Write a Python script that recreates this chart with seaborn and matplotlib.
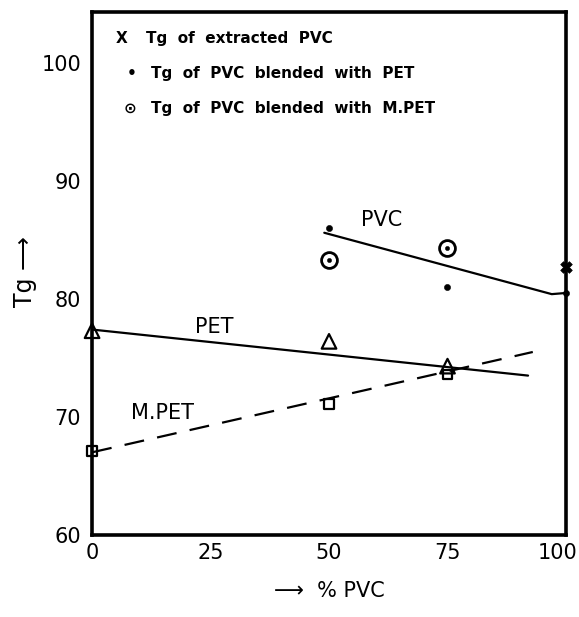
import matplotlib
matplotlib.use("Agg")
import matplotlib.pyplot as plt
import matplotlib.transforms as mtransforms
import seaborn as sns

# ---- data ----
pvc_extracted_x = [100]
pvc_extracted_y = [82.7]
pvc_pet_x = [50, 75, 100]
pvc_pet_y = [86.0, 81.0, 80.5]
pvc_mpet_x = [50, 75]
pvc_mpet_y = [83.3, 84.3]
pet_x = [0, 50, 75]
pet_y = [77.3, 76.4, 74.3]
mpet_x = [0, 50, 75]
mpet_y = [67.1, 71.1, 73.6]

pvc_line_x = [49, 97, 100]
pvc_line_y = [85.6, 80.4, 80.5]
pet_line_x = [0, 92]
pet_line_y = [77.4, 73.5]
mpet_line_x = [0, 93]
mpet_line_y = [67.0, 75.5]

x_ticks = [0, 25, 50, 75, 100]
y_ticks = [60, 70, 80, 90, 100]

sns.set_style("white")
plt.rcParams['font.family'] = ['DejaVu Sans']
plt.rcParams['text.color'] = 'black'

fig = plt.figure(figsize=(5.79, 6.17), dpi=100)
ax = fig.add_axes([0.159, 0.133, 0.8185, 0.8475])

lw = 1.6
sns.lineplot(x=pvc_line_x, y=pvc_line_y, ax=ax, color='black', lw=lw, sort=False)
sns.lineplot(x=pet_line_x, y=pet_line_y, ax=ax, color='black', lw=lw, sort=False)
sns.lineplot(x=mpet_line_x, y=mpet_line_y, ax=ax, color='black', lw=lw, sort=False)
ax.lines[-1].set_dashes([9, 6])

kw = dict(ax=ax, color='black', legend=False, clip_on=False, zorder=5)
sns.scatterplot(x=pvc_extracted_x, y=pvc_extracted_y, marker='X', s=70,
                edgecolor='black', linewidth=0.5, **kw)
sns.scatterplot(x=pvc_pet_x, y=pvc_pet_y, marker='o', s=20, edgecolor='black', **kw)
sns.scatterplot(x=pvc_mpet_x, y=pvc_mpet_y, marker='o', s=130,
                facecolor='white', edgecolor='black', linewidth=2, **kw)
sns.scatterplot(x=pvc_mpet_x, y=pvc_mpet_y, marker='o', s=10, edgecolor='black', **kw)
sns.scatterplot(x=pet_x, y=pet_y, marker='^', s=110,
                facecolor='none', edgecolor='black', linewidth=1.6, **kw)
sns.scatterplot(x=mpet_x, y=mpet_y, marker='s', s=45,
                facecolor='none', edgecolor='black', linewidth=1.6, **kw)

ax.set_xlim(0, 100)
ax.set_ylim(60, 104.3)
ax.set_xticks(x_ticks)
ax.set_yticks(y_ticks)
ax.set_xticklabels([str(v) for v in x_ticks], fontsize=15, color='black')
ax.set_yticklabels([str(v) for v in y_ticks], fontsize=15, color='black')
ax.tick_params(axis='both', direction='in', length=6, width=1.5, colors='black')
ax.tick_params(axis='x', pad=6)
ax.tick_params(axis='y', pad=8)
lab = ax.get_xticklabels()[-1]
lab.set_transform(lab.get_transform() + mtransforms.ScaledTranslation(-8 / 100, 0, fig.dpi_scale_trans))
for s in ax.spines.values():
    s.set_linewidth(2.6)
    s.set_color('black')

ax.set_xlabel('⟶  % PVC', fontsize=15, labelpad=13, color='black')
fig.text(25 / 579, 1 - 272 / 617, 'Tg ⟶', fontsize=17, rotation=90,
         ha='center', va='center', color='black')

ax.text(61, 86.7, 'PVC', fontsize=15, ha='center', va='center')
ax.text(25.7, 77.6, 'PET', fontsize=15, ha='center', va='center')
ax.text(14.8, 70.3, 'M.PET', fontsize=15, ha='center', va='center')

lt = dict(transform=ax.transAxes, fontsize=11, fontweight='bold', va='center')
ax.text(0.050, 0.950, 'X', **lt)
ax.text(0.114, 0.950, 'Tg  of  extracted  PVC', **lt)
ax.text(0.074, 0.883, '•', **lt)
ax.text(0.125, 0.883, 'Tg  of  PVC  blended  with  PET', **lt)
ax.text(0.066, 0.815, '⊙', **lt)
ax.text(0.125, 0.815, 'Tg  of  PVC  blended  with  M.PET', **lt)

fig.savefig('out.png', dpi=100)
